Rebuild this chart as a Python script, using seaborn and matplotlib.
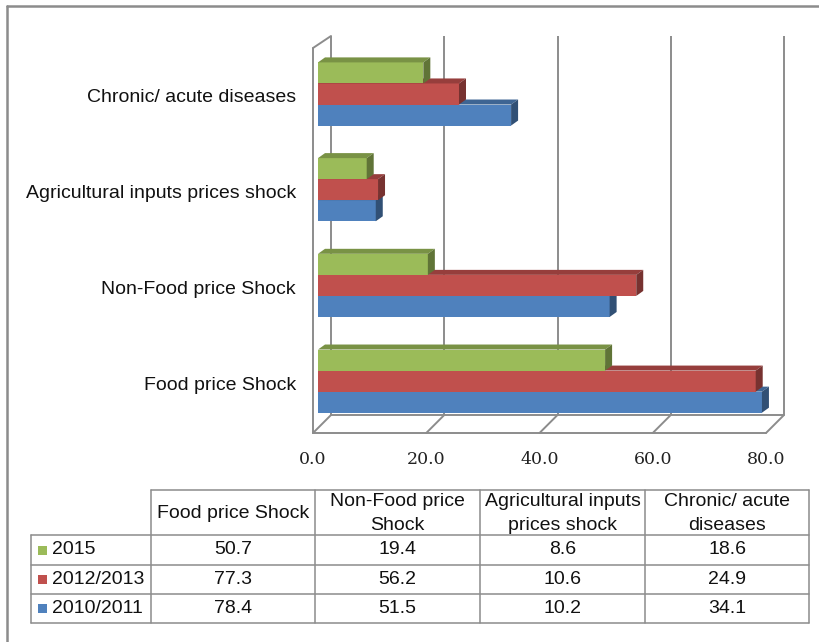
import numpy as np
import pandas as pd
import matplotlib
matplotlib.use("Agg")
import matplotlib.pyplot as plt
import matplotlib.colors as mcolors
from matplotlib.patches import Polygon, Rectangle
import seaborn as sns

# ---------------- data ----------------
categories = ["Food price Shock", "Non-Food price Shock",
              "Agricultural inputs prices shock", "Chronic/ acute diseases"]
periods = ["2015", "2012/2013", "2010/2011"]
values_2015 = [50.7, 19.4, 8.6, 18.6]
values_2012_2013 = [77.3, 56.2, 10.6, 24.9]
values_2010_2011 = [78.4, 51.5, 10.2, 34.1]
x_ticks = [0, 20, 40, 60, 80]
x_tick_labels = ["0.0", "20.0", "40.0", "60.0", "80.0"]
table_headers = [["Food price Shock"], ["Non-Food price", "Shock"],
                 ["Agricultural inputs", "prices shock"], ["Chronic/ acute", "diseases"]]
colors = {"2015": "#9BBB59", "2012/2013": "#C0504D", "2010/2011": "#4F81BD"}

series = {"2015": values_2015, "2012/2013": values_2012_2013,
          "2010/2011": values_2010_2011}
df = pd.DataFrame([{"category": c, "period": p, "value": series[p][i]}
                   for p in periods for i, c in enumerate(categories)])

sns.set_theme(style="white")
plt.rcParams["font.family"] = ["Liberation Sans", "DejaVu Sans"]

W, H = 819, 642
fig = plt.figure(figsize=(W / 100, H / 100), dpi=100)
fig.patch.set_facecolor("white")

# bar plane axes (pixel box)
L, R, T, B = 318, 771, 49, 428
ax = fig.add_axes([L / W, 1 - B / H, (R - L) / W, (B - T) / H])
order = categories[::-1]  # top to bottom
sns.barplot(data=df, x="value", y="category", hue="period", order=order,
            hue_order=periods, palette=colors, orient="h", width=0.66,
            saturation=1, legend=False, ax=ax, linewidth=0)
Y0, Y1 = 3.49, -0.47
XMAX = 80
ax.set_xlim(0, XMAX)
ax.set_ylim(Y0, Y1)
ax.axis("off")

sx = (R - L) / XMAX          # px per x unit
sy = (B - T) / (Y0 - Y1)     # px per y unit


def off(px, py):
    """pixel offset (right, up) -> data offset"""
    return px / sx, -py / sy


gc = "#8c8c8c"
glw = 1.4
fdx, fdy = off(-5, -5)   # front plane
bdx, bdy = off(13, 13)   # back wall

# back wall gridlines
for xv in x_ticks:
    ax.plot([xv + bdx, xv + bdx], [Y0 + bdy, Y1 + bdy], color=gc, lw=glw,
            clip_on=False, zorder=1, solid_capstyle="butt")
# floor
ax.plot([0 + fdx, XMAX + fdx], [Y0 + fdy, Y0 + fdy], color=gc, lw=glw, clip_on=False, zorder=1)
ax.plot([0 + bdx, XMAX + bdx], [Y0 + bdy, Y0 + bdy], color=gc, lw=glw, clip_on=False, zorder=1)
for xv in x_ticks:
    ax.plot([xv + fdx, xv + bdx], [Y0 + fdy, Y0 + bdy], color=gc, lw=glw,
            clip_on=False, zorder=1)
# left wall
ax.plot([fdx, fdx], [Y0 + fdy, Y1 + off(0, 1)[1]], color=gc, lw=glw, clip_on=False, zorder=1)
ax.plot([fdx, bdx], [Y1 + off(0, 1)[1], Y1 + bdy], color=gc, lw=glw, clip_on=False, zorder=1)

# 3D faces of bars
ddx, ddy = off(7, 5)


def shade(c, f):
    r, g, b = mcolors.to_rgb(c)
    return (r * f, g * f, b * f)


for level, cont in zip(periods, ax.containers):
    z = 3 + (len(periods) - 1 - periods.index(level)) * 0.1
    base = colors[level]
    for p in cont.patches:
        x0, w = p.get_x(), p.get_width()
        yt, yb = p.get_y(), p.get_y() + p.get_height()
        p.set_zorder(z)
        p.set_clip_on(False)
        top = Polygon([(x0, yt), (x0 + w, yt), (x0 + w + ddx, yt + ddy),
                       (x0 + ddx, yt + ddy)], closed=True,
                      facecolor=shade(base, 0.78), edgecolor="none",
                      zorder=z, clip_on=False)
        side = Polygon([(x0 + w, yt), (x0 + w, yb), (x0 + w + ddx, yb + ddy),
                        (x0 + w + ddx, yt + ddy)], closed=True,
                       facecolor=shade(base, 0.62), edgecolor="none",
                       zorder=z, clip_on=False)
        ax.add_patch(top)
        ax.add_patch(side)

# x tick labels
for xv, lab in zip(x_ticks, x_tick_labels):
    ax.text(xv + fdx, Y0 + fdy + 27 / sy, lab, ha="center", va="center",
            family="DejaVu Serif", fontsize=12.5, color="#222222", clip_on=False)

# category labels
for i, cat in enumerate(order):
    ax.text(-22 / sx, i + 4 / sy, cat, ha="right", va="center", fontsize=14,
            color="#111111", clip_on=False)

# ---------------- overlay: border + data table ----------------
ov = fig.add_axes([0, 0, 1, 1], zorder=-1)
ov.set_xlim(0, W)
ov.set_ylim(H, 0)
ov.axis("off")

ov.plot([7, 7], [6, H], color=gc, lw=1.8)
ov.plot([7, W], [6, 6], color=gc, lw=1.8)

tlw = 1.1
col_x = [151, 315, 480, 645, 809]
row_left = 31
y_head_top, y_head_bot = 490, 535
row_y = [535, 565, 594, 623]

ov.plot([col_x[0], col_x[-1]], [y_head_top, y_head_top], color=gc, lw=tlw)
for yy in row_y:
    ov.plot([row_left, col_x[-1]], [yy, yy], color=gc, lw=tlw)
for xx in col_x:
    ov.plot([xx, xx], [y_head_top, row_y[-1]], color=gc, lw=tlw)
ov.plot([row_left, row_left], [row_y[0], row_y[-1]], color=gc, lw=tlw)

for j, hdr in enumerate(table_headers):
    cx = (col_x[j] + col_x[j + 1]) / 2
    if len(hdr) == 1:
        ov.text(cx, 513, hdr[0], ha="center", va="center", fontsize=14, color="#111111")
    else:
        ov.text(cx, 502, hdr[0], ha="center", va="center", fontsize=14, color="#111111")
        ov.text(cx, 525, hdr[1], ha="center", va="center", fontsize=14, color="#111111")

for r, p in enumerate(periods):
    cy = (row_y[r] + row_y[r + 1]) / 2
    ov.add_patch(Rectangle((38, cy - 4.5), 9, 9, facecolor=colors[p], edgecolor="none"))
    ov.text(52, cy, p, ha="left", va="center", fontsize=14, color="#111111")
    for j in range(len(categories)):
        cx = (col_x[j] + col_x[j + 1]) / 2
        ov.text(cx, cy, f"{series[p][j]:.1f}", ha="center", va="center",
                fontsize=14, color="#111111")

fig.savefig("out.png", dpi=100, facecolor="white")
